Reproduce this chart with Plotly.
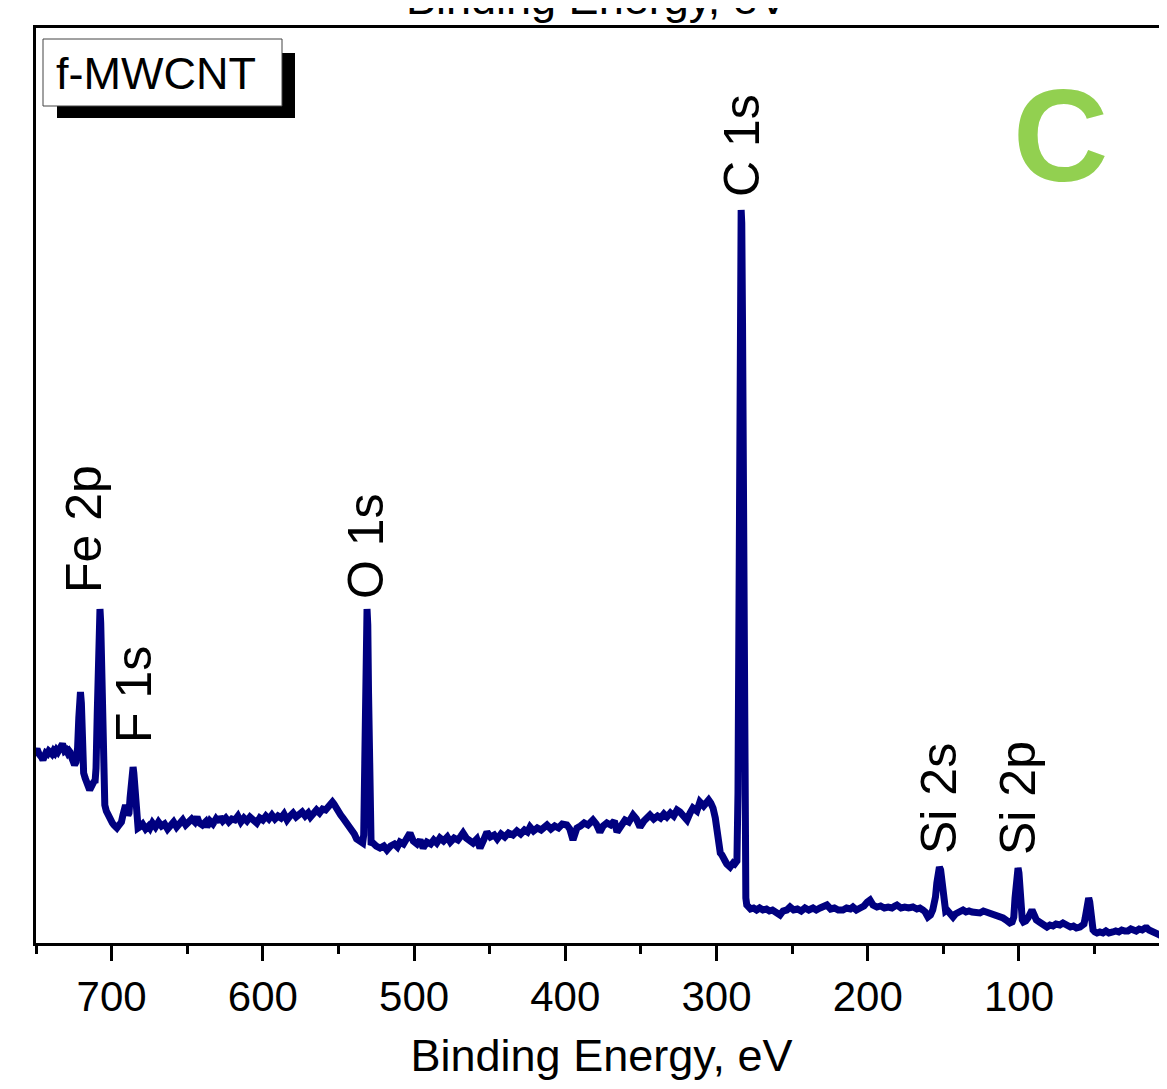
import plotly.graph_objects as go

# ---- data: XPS survey spectrum of f-MWCNT (binding energy, eV ; intensity, a.u.) ----
energy = [
    750, 749.3, 748, 747, 746, 745.4, 744.5, 743.5, 742.5, 741.5, 740.7, 739.5, 738.5, 737.5, 736.5,
    735.5, 734.5, 733.5, 732.5, 732, 731, 730, 729, 728, 727.5, 726.5, 725.5, 724.5, 723.5, 722.5,
    721.7, 721, 720.6, 720, 719.4, 719, 718.5, 717.5, 716.5, 715.5, 714.5, 713.5, 712.5, 711.5, 711,
    710.3, 709.5, 708.8, 708.2, 707.7, 707.2, 706.6, 706, 705.3, 704.5, 703.5, 702.5, 701.5, 700.5,
    699.5, 698.5, 697.5, 696.5, 695.5, 694.5, 693.5, 692.5, 691.5, 690.8, 690, 689.2, 688.5, 687.8,
    687, 686.3, 685.8, 685.3, 684.6, 684, 683.3, 682.5, 681.5, 680.5,
    679.5, 677.5, 675.5, 674.6, 673, 671, 669, 667, 665, 663, 661, 659, 657, 655, 653, 651, 649, 647,
    645, 643.5, 642, 640, 638, 637, 635, 633, 631, 629.5, 628.3, 626.5, 624.5, 622.5, 620.5, 618.5,
    616.5, 614.5, 612.5, 610.5, 608.5, 606.5, 604, 602, 600, 598, 596, 594, 592, 590, 588, 586, 584,
    582, 580, 578, 576, 574, 572, 570, 568.5, 566.5, 564.5, 562.5, 560.5, 558.5, 557, 555.5, 554, 553,
    551.5, 550, 548.5, 547, 545.5, 544, 542.5, 541, 539.5, 538, 536.5, 535, 534, 533.3, 532.6, 532,
    531.5, 531.1, 530.6, 530.1, 529.6, 529, 528.4, 527.5,
    527.2, 525, 522.5, 520, 517.9, 515.5, 513, 511, 509.3, 507, 505, 502.7, 500.5, 498, 496, 494,
    491.5, 489, 487, 485, 482.9, 480.5, 478, 476, 473.5, 471, 469, 467.6, 465.5, 463, 461, 458.5,
    456.4, 454, 451.8, 449.5, 447, 445, 442.5, 440, 437.5, 434.6, 432, 429.5, 427, 425, 423.3, 421,
    418.5, 416, 414, 412.1, 409.5, 407, 404.5, 402, 399, 397, 394.9, 392.3, 390, 387.5, 385, 383,
    381.7, 379.5, 377.1, 375, 372.5, 370, 367.5, 365.8, 363, 360.5, 358, 355.2, 353, 350.6, 348, 346,
    344, 341.5, 339, 337, 334.8, 332.8, 330.5, 328.3, 326.1, 324.2, 322, 319.5, 317.5, 315.6, 313,
    311, 308.5, 306.3, 305.2, 303.8, 302.3, 300.8, 299.7, 298.6, 297.5, 296.4, 295.3, 294.3, 293.2,
    292, 291, 290, 289, 288, 287.2,
    286.5, 285.8, 285.2, 284.6, 284.1, 283.7, 283.3, 282.8, 282.3, 281.8, 281.3, 280.6, 280, 279.2,
    277.5, 275.5, 273.5, 271.5, 269.3, 267, 265, 263, 261, 258, 256, 253.5, 251.4, 249, 246.5, 244,
    241.5, 239, 236.2, 234, 231.5, 229, 227, 224.5, 222, 219.5, 216.4, 214, 211.5, 209.8, 207.5, 205,
    202.5, 200.3, 198.5, 196.5, 193.9, 191.5, 189, 186.5, 184, 182, 180.7, 178, 175.5, 173, 170.1,
    167.5, 165.5, 163.5, 162, 160.2, 158.5, 157,
    156, 155.2, 154.3, 153.4, 152.6, 151.8, 151, 150.2, 149.4, 148.5, 147.6, 146, 144.8, 143.6, 142,
    140, 138.5, 137, 135, 133, 131, 129, 127.5, 125.8, 123.5, 121.5, 119.2, 117, 115, 112.6, 110.5,
    108.5, 106, 104.5, 103.4, 102.6, 101.8, 101.1, 100.6, 100, 99.3, 98.6, 97.8, 97, 95.5, 94, 92.8,
    91.4, 90.2, 88.5, 86.5, 84.5, 82.5, 81.5, 79.5, 77.5, 75.5, 73, 70.9, 68.5, 66, 64, 62, 59.7, 58,
    57, 56.2, 55.4, 54.6, 53.9, 53.2, 52.5, 51.8, 51, 49.8, 48.4, 46.5, 44.5, 42.5, 40.5, 37.9, 36,
    34, 32, 30, 28, 26, 24.6, 22.5, 20.5, 18.5, 16.5, 15.4, 14, 12, 10, 8.5, 6.8, 5, 3.5, 2.2, 1, 0,
]

intensity = [
    192, 194, 189, 188, 185, 183, 187, 190, 189, 192, 191, 189, 192, 190, 193,
    191, 193, 195, 199, 197, 192, 193, 190, 192, 191, 186, 182, 178, 181, 195,
    225, 248, 251, 240, 205, 180, 170, 165, 160, 155, 153, 156, 160, 162, 160,
    175, 230, 300, 330, 334, 320, 270, 200, 150, 138, 132, 128, 124, 122,
    120, 118, 116, 115, 117, 119, 121, 128, 137, 138, 132, 128, 130, 145,
    165, 175, 176, 170, 150, 128, 118, 115, 116, 118,
    119, 114, 117, 115, 120, 116, 121, 117, 119, 114, 118, 121, 116, 119, 123, 118, 120, 124,
    121, 126, 120, 118, 121, 116, 122, 119, 124, 121, 126, 122, 125, 121, 124, 123,
    127, 121, 125, 122, 126, 124, 120, 125, 123, 127, 124, 128, 124, 127, 125, 129, 123,
    127, 130, 126, 129, 131, 127, 130, 126, 131, 133, 130, 134, 133, 136, 138, 141, 139,
    134, 131, 128, 125, 122, 119, 116, 113, 109, 104, 102, 101, 100, 108, 170, 280,
    325, 334, 318, 250, 150, 105, 98, 100,
    100, 97, 95, 97, 93, 97, 99, 96, 101, 99, 104, 110, 102, 99, 103, 95,
    101, 99, 103, 100, 105, 102, 106, 101, 105, 103, 107, 110, 105, 102, 100, 104,
    95, 103, 111, 106, 108, 104, 109, 106, 110, 108, 112, 109, 113, 111, 116, 112,
    115, 113, 116, 118, 114, 117, 115, 119, 118, 114, 103, 115, 117, 120, 118, 121,
    123, 119, 111, 117, 120, 118, 122, 111, 119, 123, 121, 128, 124, 116, 122, 126,
    128, 124, 127, 125, 129, 126, 130, 127, 133, 131, 128, 123, 130, 135, 132,
    141, 137, 141, 143, 140, 135, 125, 112, 98, 90, 88, 86, 82, 79,
    77, 76, 78, 80, 79, 81,
    82, 150, 400, 650, 725, 733, 720, 620, 400, 180, 80, 45, 38, 36,
    34, 35, 33, 35, 33, 34, 32, 33, 31, 28, 32, 33, 36, 33, 34, 32,
    35, 33, 35, 33, 35, 36, 38, 34, 35, 33, 33, 35, 34, 36, 33, 35,
    37, 41, 43, 38, 36, 37, 35, 36, 35, 37, 38, 35, 36, 35, 36,
    34, 35, 33, 31, 26, 28, 33,
    38, 46, 60, 72, 76, 73, 60, 44, 34, 32, 33, 30, 28, 26, 29,
    31, 32, 33, 31, 32, 31, 30, 31, 30, 32, 31, 31, 30, 28, 26, 25,
    23, 20, 21, 26, 45, 66, 74, 75, 70, 52, 32, 23, 21, 22, 25, 30,
    33, 29, 23, 21, 19, 17, 16, 18, 17, 19, 18, 20, 17, 16, 17, 15, 16, 17,
    19, 25, 35, 43, 45, 41, 30, 18, 13, 11, 10, 11, 10, 12, 10, 11, 12,
    11, 13, 12, 12, 14, 13, 12, 14, 13, 15, 15, 13, 12, 10, 9, 8, 6, 3, 1, -2, -4,
]

x_ticks = [700, 600, 500, 400, 300, 200, 100, 0]
x_range = [750, 2.1]
y_range = [0, 915]

peak_labels = ["Fe 2p", "F 1s", "O 1s", "C 1s", "Si 2s", "Si 2p"]
sample_label = "f-MWCNT"
panel_letter = "C"
axis_title = "Binding Energy, eV"

# ---- layout geometry ----
# The page body has an 8 px default margin on every side, so the figure is
# offset by OFF and made small enough to avoid scrollbars.
OFF = 8
PAGE_W, PAGE_H = 1167, 1089
W, H = PAGE_W - OFF, PAGE_H - 2 * OFF
PLOT_LEFT, PLOT_TOP, PLOT_BOTTOM = 36, 28, 943        # page pixels
L, T = PLOT_LEFT - OFF, PLOT_TOP - OFF
B = H - (PLOT_BOTTOM - OFF)
R = 0
PW, PH = W - L - R, H - T - B


def px(xp):
    """page pixel x -> paper x"""
    return (xp - PLOT_LEFT) / PW


def py(yp):
    """page pixel y -> paper y"""
    return (PLOT_BOTTOM - yp) / PH


FONT = "Arial, Liberation Sans, sans-serif"
NAVY = "#000080"

fig = go.Figure()
fig.add_trace(go.Scatter(x=energy, y=intensity, mode="lines",
                         line=dict(color=NAVY, width=7), showlegend=False,
                         hoverinfo="x+y"))

fig.update_layout(
    width=W, height=H,
    margin=dict(l=L, r=R, t=T, b=B, pad=0, autoexpand=False),
    paper_bgcolor="white", plot_bgcolor="white",
    font=dict(family=FONT, color="black"),
    xaxis=dict(range=x_range, autorange=False, tickvals=x_ticks,
               ticktext=[str(v) for v in x_ticks], automargin=False,
               ticks="outside", ticklen=15, tickwidth=3, tickcolor="black",
               tickfont=dict(size=42, family=FONT, color="black"),
               ticklabelstandoff=0,
               minor=dict(dtick=50, tick0=0, ticks="outside", ticklen=8,
                          tickwidth=3, tickcolor="black", showgrid=False),
               showline=True, linewidth=3, linecolor="black", mirror=True,
               showgrid=False, zeroline=False,
               title=dict(text=axis_title, font=dict(size=45, family=FONT, color="black"),
                          standoff=37)),
    yaxis=dict(range=y_range, autorange=False, showticklabels=False, ticks="",
               automargin=False,
               showline=True, linewidth=3, linecolor="black", mirror=False,
               showgrid=False, zeroline=False),
)

# sample-name box with drop shadow
fig.add_shape(type="rect", xref="paper", yref="paper",
              x0=px(57), x1=px(295), y0=py(118), y1=py(53),
              fillcolor="black", line=dict(width=0), layer="above")
fig.add_shape(type="rect", xref="paper", yref="paper",
              x0=px(43), x1=px(282), y0=py(106), y1=py(39),
              fillcolor="white", line=dict(color="#444444", width=1), layer="above")
fig.add_annotation(text=sample_label, xref="paper", yref="paper",
                   x=px(156), y=py(73), xanchor="center", yanchor="middle",
                   showarrow=False, font=dict(size=45, family=FONT, color="black"))

# panel letter
fig.add_annotation(text="<b>%s</b>" % panel_letter, xref="paper", yref="paper",
                   x=px(1060), y=py(136), xanchor="center", yanchor="middle",
                   showarrow=False, font=dict(size=132, family=FONT, color="#92D050"))

# peak labels (rotated)
label_pos = [(84, 529), (134, 695), (366, 546), (742, 146), (939, 799), (1018, 798)]
for txt, (lx, ly) in zip(peak_labels, label_pos):
    fig.add_annotation(text=txt, xref="paper", yref="paper", x=px(lx), y=py(ly),
                       xanchor="center", yanchor="middle", textangle=-90,
                       showarrow=False, font=dict(size=50, family=FONT, color="black"))

# partially visible title of the panel above (cut by the top edge, as in the reference)
fig.add_annotation(text=axis_title, xref="paper", yref="paper", x=px(597), y=1,
                   xanchor="center", yanchor="bottom", yshift=2,
                   showarrow=False, font=dict(size=45, family=FONT, color="black"))

# the "0" tick label that is cut by the right edge
fig.add_annotation(text="0", xref="paper", yref="paper", x=px(1171), y=py(995),
                   xanchor="center", yanchor="middle",
                   showarrow=False, font=dict(size=42, family=FONT, color="black"))

fig.write_html("out.html")
